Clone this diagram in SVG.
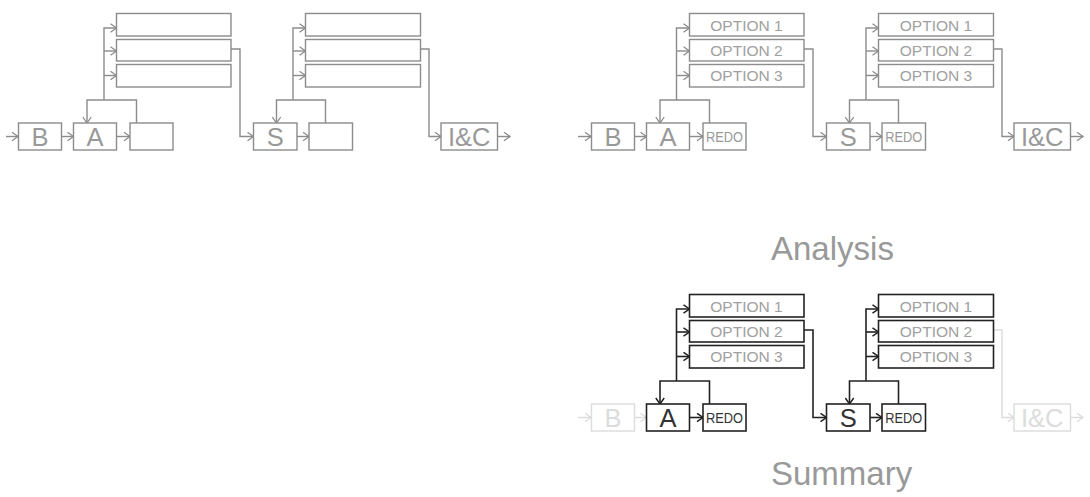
<svg xmlns="http://www.w3.org/2000/svg" width="1090" height="497" viewBox="0 0 1090 497">
<style>
  .g rect{fill:#fff;stroke:#8c8c8c;stroke-width:1.4}
  .g .c{fill:none;stroke:#8c8c8c;stroke-width:1.4}
  .d rect{fill:#fff;stroke:#222;stroke-width:1.6}
  .d .c{fill:none;stroke:#222;stroke-width:1.6}
  .l rect{fill:#fff;stroke:#dcdcdc;stroke-width:1.4}
  .l .c{fill:none;stroke:#dcdcdc;stroke-width:1.4}
  text{font-family:"Liberation Sans",Arial,sans-serif;text-anchor:middle}
  .big{font-size:25.5px}
  .opt{font-size:15.5px;fill:#a0a0a0}
  .redo{font-size:14.5px}
  .tg{fill:#999}
  .td{fill:#333}
  .tl{fill:#dcdcdc}
  .title{font-size:33px;fill:#999;text-anchor:start}
</style>
<defs>
  <marker id="ag" markerUnits="userSpaceOnUse" markerWidth="10" markerHeight="10" refX="7" refY="5" orient="auto">
    <path d="M1,0.8 L7,5 L1,9.2" fill="none" stroke="#8c8c8c" stroke-width="1.3"/>
  </marker>
  <marker id="ad" markerUnits="userSpaceOnUse" markerWidth="10" markerHeight="10" refX="7" refY="5" orient="auto">
    <path d="M1,0.8 L7,5 L1,9.2" fill="none" stroke="#222" stroke-width="1.5"/>
  </marker>
  <marker id="al" markerUnits="userSpaceOnUse" markerWidth="10" markerHeight="10" refX="7" refY="5" orient="auto">
    <path d="M1,0.8 L7,5 L1,9.2" fill="none" stroke="#dcdcdc" stroke-width="1.3"/>
  </marker>
</defs>

<!-- Panel 1 -->
<g id="panel1">
  <g id="p1-connectors" class="g">
    <path class="c" d="M6,136.5 H18" marker-end="url(#ag)"/>
    <path class="c" d="M61.5,136.5 H73.5" marker-end="url(#ag)"/>
    <path class="c" d="M116.5,136.5 H130" marker-end="url(#ag)"/>
    <path class="c" d="M104,100 V28 H116.5" marker-end="url(#ag)"/>
    <path class="c" d="M104,51 H116.5" marker-end="url(#ag)"/>
    <path class="c" d="M104,75.5 H116.5" marker-end="url(#ag)"/>
    <path class="c" d="M136.5,123 V100 H87 V123" marker-end="url(#ag)"/>
    <path class="c" d="M231,49 H240 V136.5 H253.5" marker-end="url(#ag)"/>
    <path class="c" d="M297,136.5 H309" marker-end="url(#ag)"/>
    <path class="c" d="M293,100 V28 H305.5" marker-end="url(#ag)"/>
    <path class="c" d="M293,51 H305.5" marker-end="url(#ag)"/>
    <path class="c" d="M293,75.5 H305.5" marker-end="url(#ag)"/>
    <path class="c" d="M325.5,123 V100 H276.5 V123" marker-end="url(#ag)"/>
    <path class="c" d="M420.5,49 H429 V136.5 H441" marker-end="url(#ag)"/>
    <path class="c" d="M497.5,136.5 H510" marker-end="url(#ag)"/>
  </g>
  <g id="p1-B" class="g"><rect x="18.5" y="123" width="43" height="27"/><text class="big tg" x="40" y="145.5">B</text></g>
  <g id="p1-A" class="g"><rect x="73.5" y="123" width="43" height="27"/><text class="big tg" x="95" y="145.5">A</text></g>
  <g id="p1-R1" class="g"><rect x="130" y="123" width="43" height="27"/></g>
  <g id="p1-O1a" class="g"><rect x="116.5" y="13.5" width="114.5" height="22.5"/></g>
  <g id="p1-O2a" class="g"><rect x="116.5" y="39.5" width="114.5" height="21.5"/></g>
  <g id="p1-O3a" class="g"><rect x="116.5" y="64.5" width="114.5" height="22.5"/></g>
  <g id="p1-S" class="g"><rect x="253.5" y="123" width="43.5" height="27"/><text class="big tg" x="275.2" y="145.5">S</text></g>
  <g id="p1-R2" class="g"><rect x="309" y="123" width="43.5" height="27"/></g>
  <g id="p1-O1b" class="g"><rect x="305.5" y="13.5" width="115" height="22.5"/></g>
  <g id="p1-O2b" class="g"><rect x="305.5" y="39.5" width="115" height="21.5"/></g>
  <g id="p1-O3b" class="g"><rect x="305.5" y="64.5" width="115" height="22.5"/></g>
  <g id="p1-IC" class="g"><rect x="441" y="123" width="56.5" height="27"/><text class="big tg" x="469.3" y="145.5">I&amp;C</text></g>
</g>

<!-- Panel 2 -->
<g id="panel2" transform="translate(573,0)">
  <g id="p2-connectors" class="g">
    <path class="c" d="M5,136.5 H18" marker-end="url(#ag)"/>
    <path class="c" d="M61.5,136.5 H73.5" marker-end="url(#ag)"/>
    <path class="c" d="M116.5,136.5 H130" marker-end="url(#ag)"/>
    <path class="c" d="M103.5,100 V28 H116.5" marker-end="url(#ag)"/>
    <path class="c" d="M103.5,51 H116.5" marker-end="url(#ag)"/>
    <path class="c" d="M103.5,75.5 H116.5" marker-end="url(#ag)"/>
    <path class="c" d="M136.5,123 V100 H87 V123" marker-end="url(#ag)"/>
    <path class="c" d="M231,49 H240 V136.5 H253.5" marker-end="url(#ag)"/>
    <path class="c" d="M297,136.5 H309" marker-end="url(#ag)"/>
    <path class="c" d="M293,100 V28 H305.5" marker-end="url(#ag)"/>
    <path class="c" d="M293,51 H305.5" marker-end="url(#ag)"/>
    <path class="c" d="M293,75.5 H305.5" marker-end="url(#ag)"/>
    <path class="c" d="M325.5,123 V100 H276.5 V123" marker-end="url(#ag)"/>
    <path class="c" d="M420.5,49 H429 V136.5 H441" marker-end="url(#ag)"/>
    <path class="c" d="M497.5,136.5 H510" marker-end="url(#ag)"/>
  </g>
  <g id="p2-B" class="g"><rect x="18.5" y="123" width="43" height="27"/><text class="big tg" x="40" y="145.5">B</text></g>
  <g id="p2-A" class="g"><rect x="73.5" y="123" width="43" height="27"/><text class="big tg" x="95" y="145.5">A</text></g>
  <g id="p2-R1" class="g"><rect x="130" y="123" width="43" height="27"/><text class="redo tg" x="151.5" y="141.8" textLength="37" lengthAdjust="spacingAndGlyphs">REDO</text></g>
  <g id="p2-O1a" class="g"><rect x="116.5" y="13.5" width="114.5" height="22.5"/><text class="opt" x="173.5" y="30.5">OPTION 1</text></g>
  <g id="p2-O2a" class="g"><rect x="116.5" y="39.5" width="114.5" height="21.5"/><text class="opt" x="173.5" y="56">OPTION 2</text></g>
  <g id="p2-O3a" class="g"><rect x="116.5" y="64.5" width="114.5" height="22.5"/><text class="opt" x="173.5" y="81">OPTION 3</text></g>
  <g id="p2-S" class="g"><rect x="253.5" y="123" width="43.5" height="27"/><text class="big tg" x="275.2" y="145.5">S</text></g>
  <g id="p2-R2" class="g"><rect x="309" y="123" width="43.5" height="27"/><text class="redo tg" x="330.7" y="141.8" textLength="37" lengthAdjust="spacingAndGlyphs">REDO</text></g>
  <g id="p2-O1b" class="g"><rect x="305.5" y="13.5" width="115" height="22.5"/><text class="opt" x="363" y="30.5">OPTION 1</text></g>
  <g id="p2-O2b" class="g"><rect x="305.5" y="39.5" width="115" height="21.5"/><text class="opt" x="363" y="56">OPTION 2</text></g>
  <g id="p2-O3b" class="g"><rect x="305.5" y="64.5" width="115" height="22.5"/><text class="opt" x="363" y="81">OPTION 3</text></g>
  <g id="p2-IC" class="g"><rect x="441" y="123" width="56.5" height="27"/><text class="big tg" x="469.3" y="145.5">I&amp;C</text></g>
</g>

<text id="label-analysis" class="title" x="771" y="260">Analysis</text>

<!-- Panel 3 -->
<g id="panel3" transform="translate(573,281)">
  <g id="p3-connectors">
    <g class="l">
      <path class="c" d="M5,136.5 H18" marker-end="url(#al)"/>
      <path class="c" d="M61.5,136.5 H73.5" marker-end="url(#al)"/>
      <path class="c" d="M420.5,49 H429 V136.5 H441" marker-end="url(#al)"/>
      <path class="c" d="M497.5,136.5 H510" marker-end="url(#al)"/>
    </g>
    <g class="d">
      <path class="c" d="M116.5,136.5 H130" marker-end="url(#ad)"/>
      <path class="c" d="M103.5,100 V28 H116.5" marker-end="url(#ad)"/>
      <path class="c" d="M103.5,51 H116.5" marker-end="url(#ad)"/>
      <path class="c" d="M103.5,75.5 H116.5" marker-end="url(#ad)"/>
      <path class="c" d="M136.5,123 V100 H87 V123" marker-end="url(#ad)"/>
      <path class="c" d="M231,49 H240 V136.5 H253.5" marker-end="url(#ad)"/>
      <path class="c" d="M297,136.5 H309" marker-end="url(#ad)"/>
      <path class="c" d="M293,100 V28 H305.5" marker-end="url(#ad)"/>
      <path class="c" d="M293,51 H305.5" marker-end="url(#ad)"/>
      <path class="c" d="M293,75.5 H305.5" marker-end="url(#ad)"/>
      <path class="c" d="M325.5,123 V100 H276.5 V123" marker-end="url(#ad)"/>
    </g>
  </g>
  <g id="p3-B" class="l"><rect x="18.5" y="123" width="43" height="27"/><text class="big tl" x="40" y="145.5">B</text></g>
  <g id="p3-A" class="d"><rect x="73.5" y="123" width="43" height="27"/><text class="big td" x="95" y="145.5">A</text></g>
  <g id="p3-R1" class="d"><rect x="130" y="123" width="43" height="27"/><text class="redo td" x="151.5" y="141.8" textLength="37" lengthAdjust="spacingAndGlyphs">REDO</text></g>
  <g id="p3-O1a" class="d"><rect x="116.5" y="13.5" width="114.5" height="22.5"/><text class="opt" x="173.5" y="30.5">OPTION 1</text></g>
  <g id="p3-O2a" class="d"><rect x="116.5" y="39.5" width="114.5" height="21.5"/><text class="opt" x="173.5" y="56">OPTION 2</text></g>
  <g id="p3-O3a" class="d"><rect x="116.5" y="64.5" width="114.5" height="22.5"/><text class="opt" x="173.5" y="81">OPTION 3</text></g>
  <g id="p3-S" class="d"><rect x="253.5" y="123" width="43.5" height="27"/><text class="big td" x="275.2" y="145.5">S</text></g>
  <g id="p3-R2" class="d"><rect x="309" y="123" width="43.5" height="27"/><text class="redo td" x="330.7" y="141.8" textLength="37" lengthAdjust="spacingAndGlyphs">REDO</text></g>
  <g id="p3-O1b" class="d"><rect x="305.5" y="13.5" width="115" height="22.5"/><text class="opt" x="363" y="30.5">OPTION 1</text></g>
  <g id="p3-O2b" class="d"><rect x="305.5" y="39.5" width="115" height="21.5"/><text class="opt" x="363" y="56">OPTION 2</text></g>
  <g id="p3-O3b" class="d"><rect x="305.5" y="64.5" width="115" height="22.5"/><text class="opt" x="363" y="81">OPTION 3</text></g>
  <g id="p3-IC" class="l"><rect x="441" y="123" width="56.5" height="27"/><text class="big tl" x="469.3" y="145.5">I&amp;C</text></g>
</g>

<text id="label-summary" class="title" x="771" y="485">Summary</text>
</svg>
